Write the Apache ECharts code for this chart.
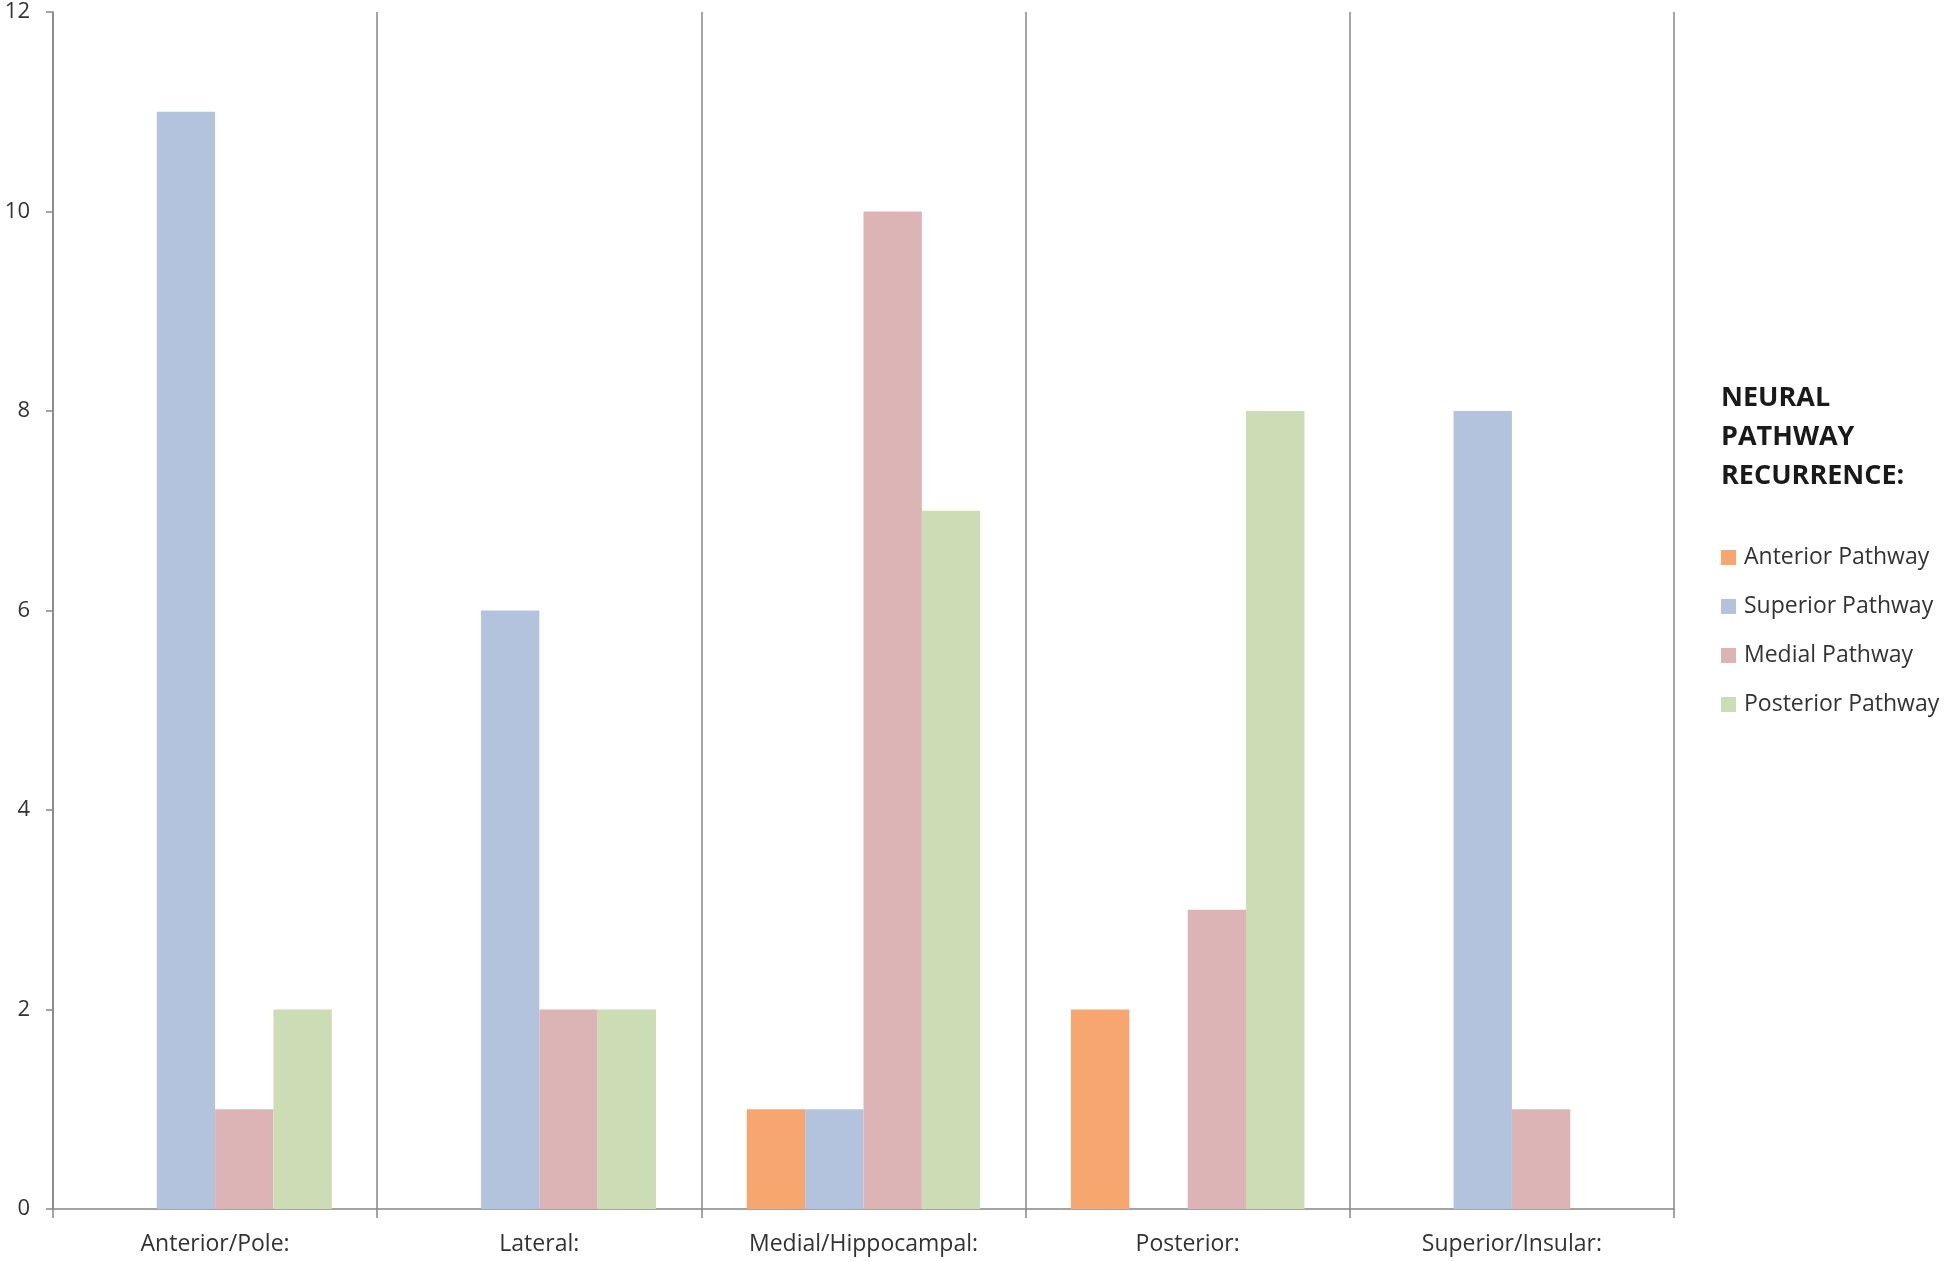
<!DOCTYPE html>
<html>
<head>
<meta charset="utf-8">
<script src="https://cdn.jsdelivr.net/npm/echarts@6/dist/echarts.min.js"></script>
<style>
html,body{margin:0;padding:0;background:#fff;}
#chart{width:1946px;height:1262px;}
</style>
</head>
<body>
<div id="chart"></div>
<script>
const categories = ['Anterior/Pole:', 'Lateral:', 'Medial/Hippocampal:', 'Posterior:', 'Superior/Insular:'];
const anteriorPathway = [0, 0, 1, 2, 0];
const superiorPathway = [11, 6, 1, 0, 8];
const medialPathway = [1, 2, 10, 3, 1];
const posteriorPathway = [2, 2, 7, 8, 0];
const seriesNames = ['Anterior Pathway', 'Superior Pathway', 'Medial Pathway', 'Posterior Pathway'];
const seriesColors = ['#F8A66F', '#B3C3DE', '#DDB4B5', '#CCDCB4'];
const yTicks = [0, 2, 4, 6, 8, 10, 12];
const legendTitle = 'NEURAL\nPATHWAY\nRECURRENCE:';

const font = '"Open Sans", Lato, sans-serif';
const chart = echarts.init(document.getElementById('chart'));
const dataSets = [anteriorPathway, superiorPathway, medialPathway, posteriorPathway];

chart.setOption({
  backgroundColor: '#ffffff',
  animation: false,
  title: {
    text: legendTitle,
    left: 1716,
    top: 374,
    textStyle: {fontFamily: font, fontSize: 27, fontWeight: 'bold', color: '#1a1a1a', lineHeight: 39}
  },
  legend: {
    orient: 'vertical',
    left: 1716,
    top: 541,
    itemWidth: 15,
    itemHeight: 15,
    itemGap: 26,
    icon: 'rect',
    data: seriesNames,
    textStyle: {fontFamily: font, fontSize: 23, color: '#333', padding: [0, 0, 0, 3], lineHeight: 23}
  },
  grid: {left: 53, right: 272, top: 12, bottom: 53, containLabel: false},
  xAxis: {
    type: 'category',
    data: categories,
    boundaryGap: true,
    axisLine: {lineStyle: {color: '#868686', width: 1.5}},
    axisTick: {show: true, length: 9, lineStyle: {color: '#868686', width: 1.5}},
    splitLine: {show: true, lineStyle: {color: '#868686', width: 1.5}},
    axisLabel: {fontFamily: font, fontSize: 23, color: '#333', margin: 24}
  },
  yAxis: {
    type: 'value',
    min: 0,
    max: 12,
    interval: 2,
    axisLine: {show: true, lineStyle: {color: '#868686', width: 1.5}},
    axisTick: {show: true, length: 7, lineStyle: {color: '#868686', width: 1.5}},
    splitLine: {show: false},
    axisLabel: {fontFamily: font, fontSize: 22, color: '#333', margin: 23,
      formatter: v => yTicks.includes(v) ? String(v) : ''}
  },
  series: seriesNames.map((n, i) => ({
    name: n,
    type: 'bar',
    data: dataSets[i],
    barGap: '0%',
    barCategoryGap: '28%',
    itemStyle: {color: seriesColors[i]}
  }))
});
</script>
</body>
</html>
